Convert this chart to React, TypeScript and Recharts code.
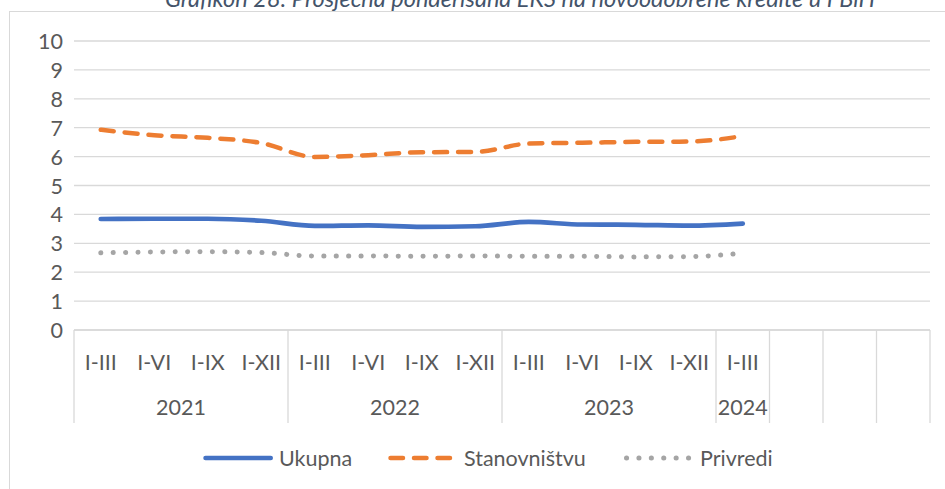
import React from 'react';
import { LineChart, Line, XAxis, YAxis, CartesianGrid } from 'recharts';

const years = ['2021', '2021', '2021', '2021', '2022', '2022', '2022', '2022', '2023', '2023', '2023', '2023', '2024', '', '', ''];
const periods = ['I-III', 'I-VI', 'I-IX', 'I-XII', 'I-III', 'I-VI', 'I-IX', 'I-XII', 'I-III', 'I-VI', 'I-IX', 'I-XII', 'I-III', '', '', ''];
const ukupna = [3.84, 3.85, 3.85, 3.78, 3.6, 3.62, 3.57, 3.59, 3.74, 3.65, 3.64, 3.61, 3.68];
const stanovnistvu = [6.93, 6.74, 6.65, 6.47, 5.99, 6.05, 6.15, 6.16, 6.45, 6.48, 6.51, 6.52, 6.71];
const privredi = [2.67, 2.7, 2.71, 2.68, 2.56, 2.56, 2.55, 2.56, 2.55, 2.55, 2.53, 2.54, 2.66];
const yTicks = [0, 1, 2, 3, 4, 5, 6, 7, 8, 9, 10];
const seriesNames = ['Ukupna', 'Stanovništvu', 'Privredi'];
const titleText = 'Grafikon 28: Prosječna ponderisana EKS na novoodobrene kredite u FBiH';

const data = periods.map((p, i) => ({
  key: i,
  period: p,
  year: years[i],
  ukupna: ukupna[i] ?? null,
  stanovnistvu: stanovnistvu[i] ?? null,
  privredi: privredi[i] ?? null,
}));

const W = 945;
const H = 489;
const Y_AXIS_W = 74;
const RIGHT = 15;
const TOP = 41;
const X_AXIS_H = 159;
const PLOT_W = W - Y_AXIS_W - RIGHT;
const STEP = PLOT_W / data.length;

const FONT = 'Lato, "Open Sans", sans-serif';
const TEXT = '#595959';
const GRID = '#D9D9D9';
const BLUE = '#4472C4';
const ORANGE = '#ED7D31';
const GRAY = '#A5A5A5';
const FS = 21.5;

const isGroupStart = (i: number) => i === 0 || years[i] === '' || years[i] !== years[i - 1];
const groupSize = (i: number) => {
  if (years[i] === '') return 1;
  let n = 1;
  while (i + n < years.length && years[i + n] === years[i]) n++;
  return n;
};

const XTick = (props: any) => {
  const { x, y, payload } = props;
  const i = payload.index;
  const els: any[] = [];
  if (isGroupStart(i)) {
    els.push(<line key="l" x1={x - STEP / 2} x2={x - STEP / 2} y1={y} y2={y + 93} stroke={GRID} strokeWidth={1.3} />);
    if (years[i]) {
      const cx = x + ((groupSize(i) - 1) * STEP) / 2;
      els.push(
        <text key="y" x={cx} y={y + 77} textAnchor="middle" dominantBaseline="central" fill={TEXT} fontSize={FS} fontFamily={FONT}>
          {years[i]}
        </text>
      );
    }
  }
  if (i === data.length - 1) {
    els.push(<line key="r" x1={x + STEP / 2} x2={x + STEP / 2} y1={y} y2={y + 93} stroke={GRID} strokeWidth={1.3} />);
  }
  if (periods[i]) {
    els.push(
      <text key="p" x={x} y={y + 32} textAnchor="middle" dominantBaseline="central" fill={TEXT} fontSize={FS} fontFamily={FONT}>
        {periods[i]}
      </text>
    );
  }
  return <g>{els}</g>;
};

const YTick = (props: any) => {
  const { x, y, payload } = props;
  return (
    <text x={x} y={y} textAnchor="end" dominantBaseline="central" fill={TEXT} fontSize={FS} fontFamily={FONT}>
      {payload.value}
    </text>
  );
};

const legendItems = [
  { name: seriesNames[0], color: BLUE, dash: undefined as string | undefined, w: 185, end: 67.75 },
  { name: seriesNames[1], color: ORANGE, dash: '12.5 11', w: 236, end: 64 },
  { name: seriesNames[2], color: GRAY, dash: '0.1 12.3', w: 200, end: 66 },
];

export default function App() {
  return (
    <div style={{ position: 'absolute', left: 0, top: 0, width: W, height: H, overflow: 'hidden', background: '#fff', fontFamily: FONT }}>
      <div style={{ position: 'absolute', left: 9, top: 11, width: 1000, height: 700, border: `1.3px solid ${GRID}`, boxSizing: 'border-box' }} />
      <svg style={{ position: 'absolute', left: 0, top: 0 }} width={W} height={30}>
        <text x={520} y={7} textAnchor="middle" fill="#44546A" fontStyle="italic" fontSize={23.5} fontFamily={FONT}>
          {titleText}
        </text>
      </svg>
      <div style={{ position: 'absolute', left: 0, top: 0 }}>
        <LineChart width={W} height={H} data={data} margin={{ top: TOP, right: RIGHT, bottom: 0, left: 0 }}>
          <CartesianGrid vertical={false} stroke={GRID} strokeWidth={1.3} />
          <XAxis
            dataKey="key"
            type="category"
            interval={0}
            height={X_AXIS_H}
            padding={{ left: STEP / 2, right: STEP / 2 }}
            tickLine={false}
            tickSize={0}
            tickMargin={0}
            axisLine={{ stroke: GRID, strokeWidth: 1.3 }}
            tick={<XTick />}
          />
          <YAxis
            width={Y_AXIS_W}
            domain={[0, 10]}
            ticks={yTicks}
            interval={0}
            axisLine={false}
            tickLine={false}
            tickSize={0}
            tickMargin={11}
            tick={<YTick />}
          />
          <Line type="monotone" dataKey="privredi" stroke={GRAY} strokeWidth={5} strokeDasharray="0.1 12.3" strokeLinecap="round" dot={false} activeDot={false} isAnimationActive={false} />
          <Line type="monotone" dataKey="stanovnistvu" stroke={ORANGE} strokeWidth={4.5} strokeDasharray="13 11" strokeLinecap="round" dot={false} activeDot={false} isAnimationActive={false} />
          <Line type="monotone" dataKey="ukupna" stroke={BLUE} strokeWidth={4.7} strokeLinecap="round" dot={false} activeDot={false} isAnimationActive={false} />
        </LineChart>
      </div>
      <div style={{ position: 'absolute', left: 203, top: 446, height: 24, display: 'flex', alignItems: 'center' }}>
        {legendItems.map((it) => (
          <div key={it.name} style={{ width: it.w, display: 'flex', alignItems: 'center' }}>
            <svg width={76} height={12} style={{ flex: 'none' }}>
              <line x1={2.5} x2={it.end} y1={6} y2={6} stroke={it.color} strokeWidth={it.dash && it.dash.startsWith('0.1') ? 5 : 4.5} strokeLinecap="round" strokeDasharray={it.dash} />
            </svg>
            <span style={{ color: TEXT, fontSize: FS, whiteSpace: 'nowrap', lineHeight: '24px' }}>{it.name}</span>
          </div>
        ))}
      </div>
    </div>
  );
}
